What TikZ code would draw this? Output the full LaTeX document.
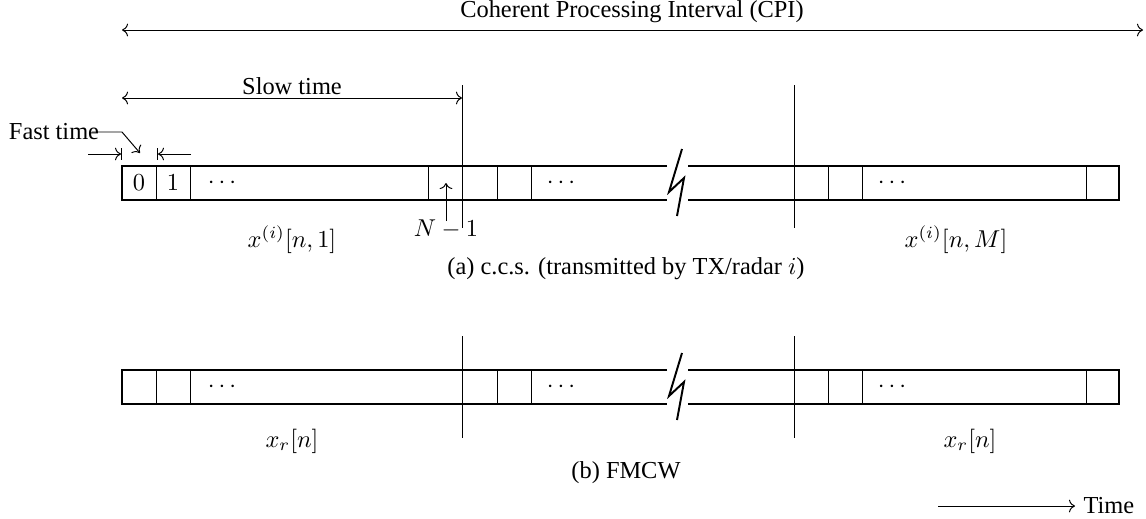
\documentclass[tikz,border=0pt]{standalone}
\usepackage{fontspec}
\setmainfont{Liberation Serif}
\usetikzlibrary{arrows.meta}
\begin{document}
\begin{tikzpicture}[x=0.41pt,y=-0.41pt,
  barline/.style={line width=0.8pt},
  cellline/.style={line width=0.4pt},
  longline/.style={line width=0.4pt},
  arr/.style={line width=0.4pt},
  lbl/.style={font=\fontsize{10pt}{12pt}\selectfont, inner sep=0pt}]
\useasboundingbox (0,0) rectangle (1146,518);

% ---------- CPI ----------
\node[lbl] (cpi) at (632,12) {Coherent Processing Interval (CPI)};
\coordinate (cpiL) at (122,30);
\coordinate (cpiR) at (1143,30);
\draw[arr,<->] (cpiL) -- (cpiR);

% ---------- Slow time ----------
\node[lbl] (slow) at (292,86) {Slow time};
\coordinate (slowL) at (122,98);
\coordinate (slowR) at (462,98);
\draw[arr,<->] (slowL) -- (slowR);

% ---------- Fast time ----------
\node[lbl] (fast) at (54,132) {Fast time};
\coordinate (fbend) at (122,132);
\coordinate (ftip) at (140,153);
\draw[arr,->] ([xshift=-3]fast.east) -- (fbend) -- (ftip);
\coordinate (fa1) at (88,154);
\coordinate (fb1) at (122,154);
\coordinate (fa2) at (191,154);
\coordinate (fb2) at (157,154);
\draw[arr,->|] (fa1) -- (fb1);
\draw[arr,->|] (fa2) -- (fb2);

% ---------- long vertical lines ----------
\draw[longline] (462,85) -- (462,228);
\draw[longline] (794,85) -- (794,228);
\draw[longline] (462,336) -- (462,438);
\draw[longline] (794,336) -- (794,438);

% ---------- bar (a) ----------
\draw[barline] (667,166) -- (122,166) -- (122,200) -- (667,200);
\draw[barline] (688,166) -- (1119,166) -- (1119,200) -- (688,200);
\draw[barline] (682,149) -- (669,192) -- (684,178) -- (677,216);
\foreach \x in {156,190,428,497,531,828,862,1086}
  \draw[cellline] (\x,166) -- (\x,200);
\node[lbl] (a0) at (139,183) {$0$};
\node[lbl] (a1) at (173,183) {$1$};
\node[lbl] (ad1) at (222,183) {$\cdots$};
\node[lbl] (ad2) at (561,183) {$\cdots$};
\node[lbl] (ad3) at (892,183) {$\cdots$};

\node[lbl] (nm1) at (446,229) {$N-1$};
\coordinate (nmtip) at (446,183);
\draw[arr,->] (446,221) -- (nmtip);

\node[lbl] (xa1) at (292,240) {$x^{(i)}[n,1]$};
\node[lbl] (xaM) at (956,240) {$x^{(i)}[n,M]$};
\node[lbl] (capa) at (626,269) {(a) c.c.s. (transmitted by TX/radar $i$)};

% ---------- bar (b) ----------
\draw[barline] (667,370) -- (122,370) -- (122,404) -- (667,404);
\draw[barline] (688,370) -- (1119,370) -- (1119,404) -- (688,404);
\draw[barline] (682,353) -- (669,396) -- (684,382) -- (677,420);
\foreach \x in {156,190,497,531,828,862,1086}
  \draw[cellline] (\x,370) -- (\x,404);
\node[lbl] (bd1) at (222,387) {$\cdots$};
\node[lbl] (bd2) at (561,387) {$\cdots$};
\node[lbl] (bd3) at (892,387) {$\cdots$};

\node[lbl] (xr1) at (292,441) {$x_r[n]$};
\node[lbl] (xr2) at (970,441) {$x_r[n]$};
\node[lbl] (capb) at (626,473) {(b) FMCW};

% ---------- Time ----------
\node[lbl,anchor=west,inner sep=3.33pt] (time) at (1075,506) {Time};
\coordinate (tstart) at (938,506);
\draw[arr,->] (tstart) -- (time.west);
\end{tikzpicture}
\end{document}
